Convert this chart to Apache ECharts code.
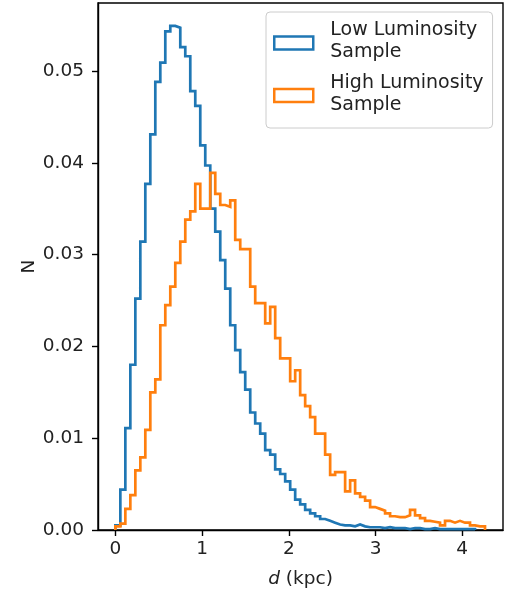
<!DOCTYPE html>
<html>
<head>
<meta charset="utf-8">
<script src="https://cdn.jsdelivr.net/npm/echarts@6/dist/echarts.min.js"></script>
<style>
  html, body { margin: 0; padding: 0; background: #fff; }
  #chart { width: 510px; height: 594px; }
</style>
</head>
<body>
<div id="chart"></div>
<script>
// Histogram bins (kpc): shared start and width for both samples
const binStart = 0;
const binWidth = 0.0576;

// Normalised counts per bin
const lowLum = [
  0.0005, 0.0044, 0.0111, 0.0180, 0.0252, 0.0314, 0.0377, 0.0431, 0.0488, 0.0509,
  0.0543, 0.0549, 0.0547, 0.0526, 0.0516, 0.0478, 0.0462, 0.0419, 0.0397, 0.0350,
  0.0325, 0.0294, 0.0263, 0.0223, 0.0196, 0.0172, 0.0153, 0.0128, 0.0116, 0.0105,
  0.0087, 0.0082, 0.0066, 0.0061, 0.0053, 0.0044, 0.0033, 0.0028, 0.0022, 0.0018,
  0.0015, 0.0012, 0.0010, 0.0008, 0.0006, 0.0005, 0.0005, 0.0004, 0.0006, 0.0004,
  0.0003, 0.0003, 0.0003, 0.0002, 0.0003, 0.0002, 0.0002, 0.0002, 0.0001, 0.0002,
  0.0002, 0.0001, 0.0001, 0.0002, 0.0001, 0.0001, 0.0001, 0.0001, 0.0001, 0.0001,
  0.0001, 0.0001
];
const highLum = [
  0.0004, 0.0007, 0.0023, 0.0038, 0.0065, 0.0079, 0.0109, 0.0150, 0.0164, 0.0223,
  0.0245, 0.0265, 0.0291, 0.0314, 0.0338, 0.0347, 0.0377, 0.0350, 0.0350, 0.0389,
  0.0366, 0.0354, 0.0352, 0.0359, 0.0316, 0.0306, 0.0306, 0.0265, 0.0247, 0.0247,
  0.0225, 0.0243, 0.0209, 0.0187, 0.0187, 0.0162, 0.0174, 0.0147, 0.0135, 0.0123,
  0.0105, 0.0105, 0.0082, 0.0060, 0.0063, 0.0063, 0.0042, 0.0054, 0.0040, 0.0036,
  0.0032, 0.0025, 0.0023, 0.0021, 0.0018, 0.0015, 0.0014, 0.0014, 0.0016, 0.0022,
  0.0016, 0.0013, 0.0010, 0.0009, 0.0008, 0.0005, 0.0010, 0.0008, 0.0010, 0.0008,
  0.0008, 0.0005, 0.0004, 0.0004
];

const seriesNames = ['Low Luminosity\nSample', 'High Luminosity\nSample'];
const seriesColors = ['#1f77b4', '#ff7f0e'];
const xTicks = [0, 1, 2, 3, 4];
const yTicks = [0, 0.01, 0.02, 0.03, 0.04, 0.05];

const FONT = 'DejaVu Sans';
const TEXT = '#222222';
const FS = 18.5;

// Outline of an unfilled step histogram: up the first edge, across each bin, down the last edge
function stepOutline(values) {
  const pts = [[binStart, 0]];
  values.forEach((v, i) => {
    const left = binStart + i * binWidth;
    pts.push([left, v], [left + binWidth, v]);
  });
  pts.push([binStart + values.length * binWidth, 0]);
  return pts;
}

const chart = echarts.init(document.getElementById('chart'), null, { renderer: 'canvas' });

const axisCommon = {
  axisLine: { show: true, onZero: false, lineStyle: { color: '#000', width: 1.4 } },
  splitLine: { show: false }
};

chart.setOption({
  animation: false,
  backgroundColor: '#fff',
  grid: {
    left: 98, top: 3, width: 405, height: 527,
    show: true, borderColor: '#000', borderWidth: 1.4, backgroundColor: 'transparent'
  },
  xAxis: Object.assign({
    type: 'value',
    min: -0.2,
    max: 4.47,
    name: '{i|d} (kpc)',
    nameLocation: 'middle',
    nameGap: 40,
    nameMoveOverlap: false,
    nameTextStyle: {
      fontFamily: FONT, fontSize: FS, color: TEXT,
      rich: { i: { fontFamily: FONT, fontSize: FS, fontStyle: 'italic', color: TEXT } }
    },
    axisTick: { show: true, inside: false, length: 6, customValues: xTicks,
                lineStyle: { color: '#000', width: 1.4 } },
    axisLabel: { customValues: xTicks, margin: 10, fontFamily: FONT, fontSize: FS, color: TEXT,
                 formatter: v => String(v) }
  }, axisCommon),
  yAxis: Object.assign({
    type: 'value',
    min: 0,
    max: 0.0574,
    name: 'N',
    nameLocation: 'middle',
    nameGap: 59,
    nameMoveOverlap: false,
    nameTextStyle: { fontFamily: FONT, fontSize: FS, color: TEXT },
    axisTick: { show: true, inside: false, length: 6, customValues: yTicks,
                lineStyle: { color: '#000', width: 1.4 } },
    axisLabel: { customValues: yTicks, margin: 14, fontFamily: FONT, fontSize: FS, color: TEXT,
                 formatter: v => v.toFixed(2) }
  }, axisCommon),
  legend: {
    orient: 'vertical',
    left: 266,
    top: 12,
    padding: [9, 9, 10, 7],
    backgroundColor: 'rgba(255,255,255,0.8)',
    borderColor: '#cccccc',
    borderWidth: 1,
    borderRadius: 4,
    itemWidth: 39,
    itemHeight: 13,
    itemGap: 8,
    icon: 'rect',
    selectedMode: false,
    // two label lines plus a short spacer line, so the patch sits a little below the text centre
    formatter: name => name.split('\n').map(s => '{t|' + s + '}').join('\n') + '\n{s| }',
    textStyle: {
      fontFamily: FONT, fontSize: 19, color: TEXT, padding: [0, 0, 0, 12],
      rich: {
        t: { fontFamily: FONT, fontSize: 19, color: TEXT, lineHeight: 22 },
        s: { fontSize: 1, lineHeight: 3 }
      }
    },
    data: seriesNames.map((n, i) => ({
      name: n,
      itemStyle: { color: '#ffffff', borderColor: seriesColors[i], borderWidth: 2.5 }
    }))
  },
  series: [lowLum, highLum].map((vals, i) => ({
    type: 'line',
    name: seriesNames[i],
    data: stepOutline(vals),
    symbol: 'none',
    showSymbol: false,
    clip: true,
    z: 2 + i,
    lineStyle: { color: seriesColors[i], width: 2.7, join: 'miter' },
    itemStyle: { color: seriesColors[i] }
  }))
});
</script>
</body>
</html>
